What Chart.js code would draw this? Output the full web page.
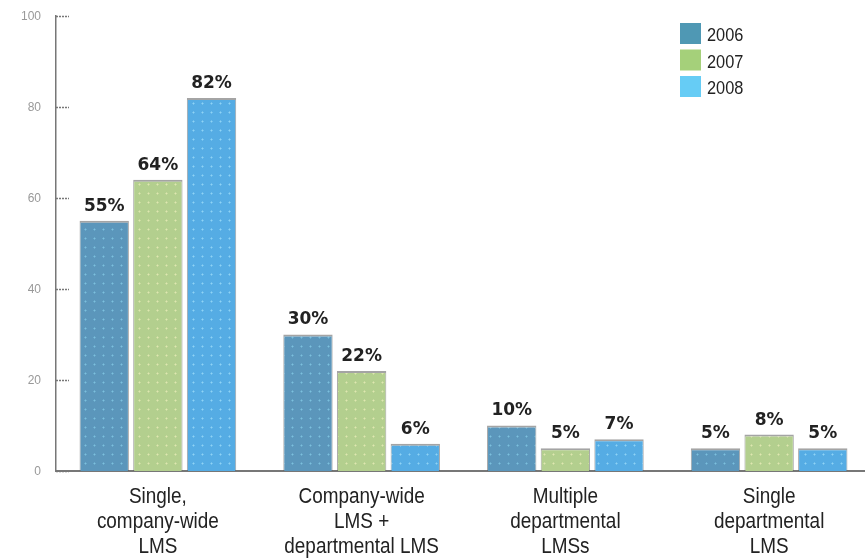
<!DOCTYPE html>
<html>
<head>
<meta charset="utf-8">
<script src="https://cdn.jsdelivr.net/npm/chart.js@4"></script>
<style>
  html, body { margin:0; padding:0; background:#fff; overflow:hidden; }
  #wrap { width:865px; height:558px; position:relative; overflow:hidden; }
</style>
</head>
<body>
<div id="wrap"><canvas id="lmsChart" width="871" height="558"></canvas></div>
<script>
// Data
const categories = [
  ['Single,', 'company-wide', 'LMS'],
  ['Company-wide', 'LMS +', 'departmental LMS'],
  ['Multiple', 'departmental', 'LMSs'],
  ['Single', 'departmental', 'LMS']
];
const years = ['2006', '2007', '2008'];
const values2006 = [55, 30, 10, 5];
const values2007 = [64, 22, 5, 8];
const values2008 = [82, 6, 7, 5];
const yTicks = [0, 20, 40, 60, 80, 100];

const legendColors = ['#4f98b4', '#a5d07a', '#66ccf5'];
const barBase = ['#5b96bb', '#b3cf8e', '#55ace4'];
const barDots = ['#7cc0de', '#dfe7b0', '#8fd3f5'];

// dotted texture like the printed original
function makePattern(base, dot) {
  const c = document.createElement('canvas');
  c.width = 9; c.height = 9;
  const g = c.getContext('2d');
  g.fillStyle = base;
  g.fillRect(0, 0, 9, 9);
  g.fillStyle = dot;
  g.fillRect(4, 4, 1, 1);
  g.globalAlpha = 0.5;
  g.fillRect(3, 4, 3, 1);
  g.fillRect(4, 3, 1, 3);
  return g.createPattern(c, 'repeat');
}

// narrow text: the original uses a condensed face
function narrowText(ctx, txt, x, y, squeeze) {
  ctx.save();
  ctx.translate(x, y);
  ctx.scale(squeeze, 1);
  ctx.fillText(txt, 0, 0);
  ctx.restore();
}

// Value labels, y ticks, category labels and the legend
const extrasPlugin = {
  id: 'extras',
  afterDatasetsDraw(chart) {
    const ctx = chart.ctx;
    ctx.save();
    ctx.font = 'bold 17px "DejaVu Sans", sans-serif';
    ctx.fillStyle = '#222';
    ctx.textAlign = 'center';
    ctx.textBaseline = 'bottom';
    chart.data.datasets.forEach((ds, i) => {
      chart.getDatasetMeta(i).data.forEach((bar, j) => {
        ctx.fillText(ds.data[j] + '%', bar.x, bar.y - 6);
      });
    });

    // short tick marks inside the plot + their labels
    const y = chart.scales.y;
    const left = chart.chartArea.left;
    ctx.strokeStyle = '#777';
    ctx.lineWidth = 1.5;
    ctx.setLineDash([2, 1]);
    yTicks.forEach(v => {
      const py = Math.round(y.getPixelForValue(v)) + 0.5;
      ctx.beginPath();
      ctx.moveTo(left, py);
      ctx.lineTo(left + 13, py);
      ctx.stroke();
    });
    ctx.setLineDash([]);
    ctx.font = '12px "Liberation Sans", Arial, sans-serif';
    ctx.fillStyle = '#999';
    ctx.textAlign = 'right';
    ctx.textBaseline = 'middle';
    yTicks.forEach(v => {
      ctx.fillText(String(v), left - 15, y.getPixelForValue(v) + 1);
    });

    // category labels under the axis
    const x = chart.scales.x;
    ctx.font = '22px "Liberation Sans", Arial, sans-serif';
    ctx.fillStyle = '#222';
    ctx.textAlign = 'center';
    ctx.textBaseline = 'alphabetic';
    categories.forEach((lines, i) => {
      const px = x.getPixelForValue(i);
      lines.forEach((ln, k) => narrowText(ctx, ln, px, 503 + k * 25, 0.86));
    });

    // legend
    ctx.textAlign = 'left';
    ctx.font = '19px "Liberation Sans", Arial, sans-serif';
    years.forEach((yr, i) => {
      const top = 23 + i * 26.5;
      ctx.fillStyle = legendColors[i];
      ctx.fillRect(680, top, 21, 21);
      ctx.fillStyle = '#222';
      narrowText(ctx, yr, 707, top + 18, 0.86);
    });
    ctx.restore();
  }
};

const ctx = document.getElementById('lmsChart').getContext('2d');
const chart = new Chart(ctx, {
  type: 'bar',
  data: {
    labels: categories,
    datasets: [
      { label: years[0], data: values2006 },
      { label: years[1], data: values2007 },
      { label: years[2], data: values2008 }
    ].map((d, i) => Object.assign(d, {
      backgroundColor: makePattern(barBase[i], barDots[i]),
      borderColor: 'rgba(90,90,90,0.55)',
      borderWidth: { top: 2, left: 1, right: 1, bottom: 0 },
      borderSkipped: 'bottom',
      categoryPercentage: 0.79,
      barPercentage: 0.92
    }))
  },
  options: {
    responsive: false,
    animation: false,
    layout: { padding: { top: 16, right: 0, left: 0, bottom: 0 } },
    plugins: { legend: { display: false }, tooltip: { enabled: false } },
    scales: {
      x: {
        grid: { display: false, drawTicks: false },
        border: { color: '#777', width: 2, dash: [2, 1] },
        ticks: { display: false },
        afterFit(scale) { scale.height = 87; }
      },
      y: {
        min: 0, max: 100,
        afterBuildTicks(scale) { scale.ticks = yTicks.map(v => ({ value: v })); },
        grid: { display: false, drawTicks: false },
        border: { color: '#777', width: 1.5, dash: [2, 1] },
        ticks: { display: false },
        afterFit(scale) { scale.width = 56; }
      }
    }
  },
  plugins: [extrasPlugin]
});
</script>
</body>
</html>
